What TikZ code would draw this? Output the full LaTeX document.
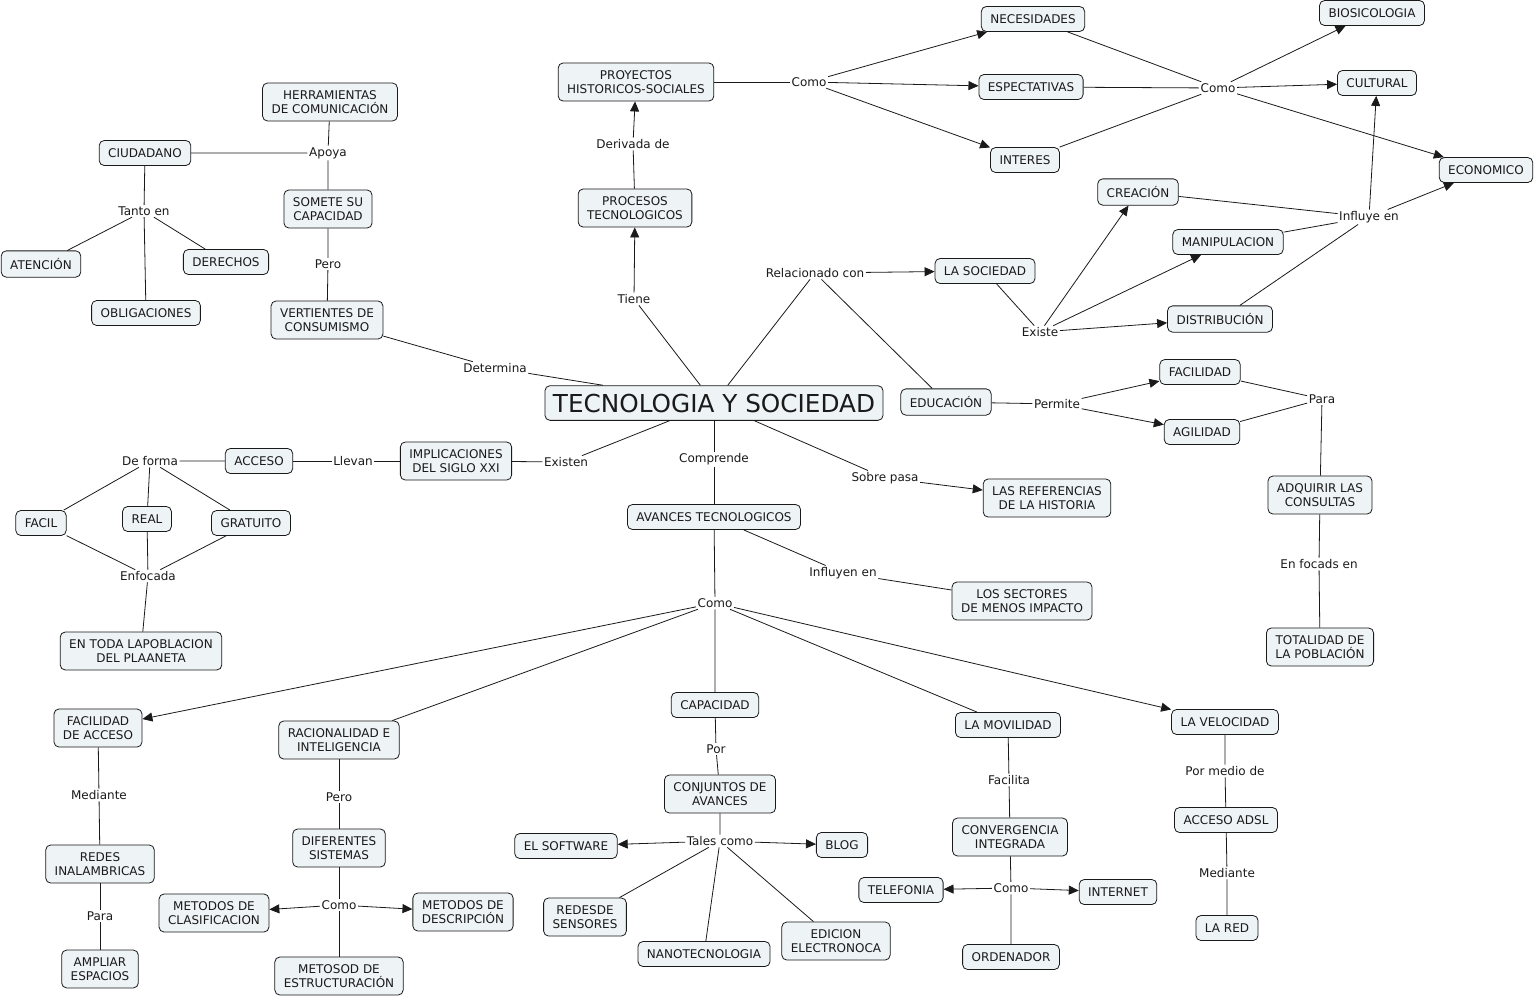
\documentclass[tikz,border=0pt]{standalone}
\usepackage{fontspec}
\setmainfont{DejaVu Sans}
\usetikzlibrary{arrows.meta}
\definecolor{cfill}{HTML}{EEF3F5}
\definecolor{ink}{HTML}{1A1A1A}
\newcommand{\cmfont}{\fontsize{12}{14}\selectfont}
\newcommand{\ttlfont}{\fontsize{24.7}{28}\selectfont}
\begin{document}
\begin{tikzpicture}[x=1pt,y=-1pt,
 cpt/.style={draw=ink, line width=0.8pt, fill=cfill, rounded corners=5pt, align=center, font=\cmfont, text=ink, inner xsep=9pt, inner ysep=7.5pt, minimum height=25pt},
 lnk/.style={font=\cmfont, text=ink, inner sep=1.5pt},
 ln/.style={line width=0.8pt, draw=ink},
 arr/.style={ln, -{Triangle[length=10pt,width=9pt]}},
]
\path[fill=white, use as bounding box] (0,0) rectangle (1534,997);

% concepts
\node[cpt, font=\ttlfont, inner xsep=8pt, inner ysep=8pt] (tys) at (714,403) {TECNOLOGIA Y SOCIEDAD};
\node[cpt] (proy) at (636,82) {PROYECTOS\\HISTORICOS-SOCIALES};
\node[cpt] (proc) at (635,208) {PROCESOS\\TECNOLOGICOS};
\node[cpt] (nec) at (1033,19) {NECESIDADES};
\node[cpt] (esp) at (1031,87) {ESPECTATIVAS};
\node[cpt] (int) at (1025,160) {INTERES};
\node[cpt] (bio) at (1372,13) {BIOSICOLOGIA};
\node[cpt] (cul) at (1377,83) {CULTURAL};
\node[cpt] (eco) at (1486,170) {ECONOMICO};
\node[cpt] (cre) at (1138,192) {CREACIÓN};
\node[cpt] (man) at (1228,242) {MANIPULACION};
\node[cpt] (dis) at (1220,319) {DISTRIBUCIÓN};
\node[cpt] (soc) at (985,271) {LA SOCIEDAD};
\node[cpt] (edu) at (946,402) {EDUCACIÓN};
\node[cpt] (fac) at (1200,372) {FACILIDAD};
\node[cpt] (agi) at (1202,432) {AGILIDAD};
\node[cpt] (adq) at (1320,495) {ADQUIRIR LAS\\CONSULTAS};
\node[cpt] (tot) at (1320,647) {TOTALIDAD DE\\LA POBLACIÓN};
\node[cpt] (ref) at (1047,498) {LAS REFERENCIAS\\DE LA HISTORIA};
\node[cpt] (ava) at (714,517) {AVANCES TECNOLOGICOS};
\node[cpt] (sec) at (1022,601) {LOS SECTORES\\DE MENOS IMPACTO};
\node[cpt] (imp) at (456,461) {IMPLICACIONES\\DEL SIGLO XXI};
\node[cpt] (acc) at (259,461) {ACCESO};
\node[cpt] (fcl) at (41,523) {FACIL};
\node[cpt] (rea) at (147,519) {REAL};
\node[cpt] (gra) at (251,523) {GRATUITO};
\node[cpt] (tod) at (141,651) {EN TODA LAPOBLACION\\DEL PLAANETA};
\node[cpt] (her) at (330,102) {HERRAMIENTAS\\DE COMUNICACIÓN};
\node[cpt] (ciu) at (145,153) {CIUDADANO};
\node[cpt] (som) at (328,209) {SOMETE SU\\CAPACIDAD};
\node[cpt] (ate) at (41,264) {ATENCIÓN};
\node[cpt] (der) at (226,262) {DERECHOS};
\node[cpt] (obl) at (146,313) {OBLIGACIONES};
\node[cpt] (ver) at (327,320) {VERTIENTES DE\\CONSUMISMO};
\node[cpt] (faa) at (98,728) {FACILIDAD\\DE ACCESO};
\node[cpt] (rac) at (339,740) {RACIONALIDAD E\\INTELIGENCIA};
\node[cpt] (cap) at (715,705) {CAPACIDAD};
\node[cpt] (mov) at (1008,725) {LA MOVILIDAD};
\node[cpt] (vel) at (1225,722) {LA VELOCIDAD};
\node[cpt] (red) at (100,864) {REDES\\INALAMBRICAS};
\node[cpt] (amp) at (100,969) {AMPLIAR\\ESPACIOS};
\node[cpt] (dif) at (339,848) {DIFERENTES\\SISTEMAS};
\node[cpt] (mcl) at (214,913) {METODOS DE\\CLASIFICACION};
\node[cpt] (mde) at (463,912) {METODOS DE\\DESCRIPCIÓN};
\node[cpt] (mes) at (339,976) {METOSOD DE\\ESTRUCTURACIÓN};
\node[cpt] (con) at (720,794) {CONJUNTOS DE\\AVANCES};
\node[cpt] (sof) at (566,846) {EL SOFTWARE};
\node[cpt] (blo) at (842,845) {BLOG};
\node[cpt] (sen) at (585,917) {REDESDE\\SENSORES};
\node[cpt] (nan) at (704,954) {NANOTECNOLOGIA};
\node[cpt] (edi) at (836,941) {EDICION\\ELECTRONOCA};
\node[cpt] (cvg) at (1010,837) {CONVERGENCIA\\INTEGRADA};
\node[cpt] (tel) at (901,890) {TELEFONIA};
\node[cpt] (inet) at (1118,892) {INTERNET};
\node[cpt] (ord) at (1011,957) {ORDENADOR};
\node[cpt] (ads) at (1226,820) {ACCESO ADSL};
\node[cpt] (lre) at (1227,928) {LA RED};

% linking phrases
\node[lnk] (l1) at (809,82) {Como};
\node[lnk] (l2) at (1218,88) {Como};
\node[lnk] (l3) at (633,144) {Derivada de};
\node[lnk] (l4) at (634,299) {Tiene};
\node[lnk] (l5) at (815,273) {Relacionado con};
\node[lnk] (l6) at (1040,332) {Existe};
\node[lnk] (l7) at (1369,217) {Influye en};
\node[lnk] (l8) at (1057,404) {Permite};
\node[lnk] (l9) at (1322,399) {Para};
\node[lnk] (l10) at (1319,564) {En focads en};
\node[lnk] (l11) at (885,478) {Sobre pasa};
\node[lnk] (l12) at (714,459) {Comprende};
\node[lnk] (l13) at (566,462) {Existen};
\node[lnk] (l14) at (353,461) {Llevan};
\node[lnk] (l15) at (150,461) {De forma};
\node[lnk] (l16) at (148,576) {Enfocada};
\node[lnk] (l17) at (495,368) {Determina};
\node[lnk] (l18) at (328,264) {Pero};
\node[lnk] (l19) at (328,153) {Apoya};
\node[lnk] (l20) at (144,211) {Tanto en};
\node[lnk] (l21) at (843,573) {Influyen en};
\node[lnk] (l22) at (715,603) {Como};
\node[lnk] (l23) at (99,795) {Mediante};
\node[lnk] (l24) at (100,916) {Para};
\node[lnk] (l25) at (339,797) {Pero};
\node[lnk] (l26) at (339,905) {Como};
\node[lnk] (l27) at (716,749) {Por};
\node[lnk] (l28) at (720,841) {Tales como};
\node[lnk] (l29) at (1009,780) {Facilita};
\node[lnk] (l30) at (1011,888) {Como};
\node[lnk] (l31) at (1225,771) {Por medio de};
\node[lnk] (l32) at (1227,873) {Mediante};

% connectors
\draw[ln] (proy) -- (l1);
\draw[arr] (l1) -- (nec);
\draw[arr] (l1) -- (esp);
\draw[arr] (l1) -- (int);
\draw[ln] (nec) -- (l2) (esp) -- (l2) (int) -- (l2);
\draw[arr] (l2) -- (bio);
\draw[arr] (l2) -- (cul);
\draw[arr] (l2) -- (eco);
\draw[ln] (proc) -- (l3);
\draw[arr] (l3) -- (proy);
\draw[ln] (tys) -- (l4);
\draw[arr] (l4) -- (proc);
\draw[ln] (tys) -- (l5) (l5) -- (edu);
\draw[arr] (l5) -- (soc);
\draw[ln] (soc) -- (l6);
\draw[arr] (l6) -- (cre);
\draw[arr] (l6) -- (man);
\draw[arr] (l6) -- (dis);
\draw[ln] (cre) -- (l7) (man) -- (l7) (dis) -- (l7);
\draw[arr] (l7) -- (cul);
\draw[arr] (l7) -- (eco);
\draw[ln] (edu) -- (l8);
\draw[arr] (l8) -- (fac);
\draw[arr] (l8) -- (agi);
\draw[ln] (fac) -- (l9) (agi) -- (l9) (l9) -- (adq);
\draw[ln] (adq) -- (l10) (l10) -- (tot);
\draw[ln] (tys) -- (l11);
\draw[arr] (l11) -- (ref);
\draw[ln] (tys) -- (l12) (l12) -- (ava);
\draw[ln] (tys) -- (l13) (l13) -- (imp);
\draw[ln] (imp) -- (l14) (l14) -- (acc);
\draw[ln] (acc) -- (l15) (l15) -- (fcl) (l15) -- (rea) (l15) -- (gra);
\draw[ln] (fcl) -- (l16) (rea) -- (l16) (gra) -- (l16) (l16) -- (tod);
\draw[ln] (tys) -- (l17) (l17) -- (ver);
\draw[ln] (ver) -- (l18) (l18) -- (som);
\draw[ln] (som) -- (l19) (l19) -- (her) (l19) -- (ciu);
\draw[ln] (ciu) -- (l20) (l20) -- (ate) (l20) -- (der) (l20) -- (obl);
\draw[ln] (ava) -- (l21) (l21) -- (sec);
\draw[ln] (ava) -- (l22) (l22) -- (rac) (l22) -- (cap) (l22) -- (mov);
\draw[arr] (l22) -- (faa);
\draw[arr] (l22) -- (vel);
\draw[ln] (faa) -- (l23) (l23) -- (red);
\draw[ln] (red) -- (l24) (l24) -- (amp);
\draw[ln] (rac) -- (l25) (l25) -- (dif);
\draw[ln] (dif) -- (l26) (l26) -- (mes);
\draw[arr] (l26) -- (mcl);
\draw[arr] (l26) -- (mde);
\draw[ln] (cap) -- (l27) (l27) -- (con);
\draw[ln] (con) -- (l28) (l28) -- (sen) (l28) -- (nan) (l28) -- (edi);
\draw[arr] (l28) -- (sof);
\draw[arr] (l28) -- (blo);
\draw[ln] (mov) -- (l29) (l29) -- (cvg);
\draw[ln] (cvg) -- (l30) (l30) -- (ord);
\draw[arr] (l30) -- (tel);
\draw[arr] (l30) -- (inet);
\draw[ln] (vel) -- (l31) (l31) -- (ads);
\draw[ln] (ads) -- (l32) (l32) -- (lre);
\end{tikzpicture}
\end{document}
